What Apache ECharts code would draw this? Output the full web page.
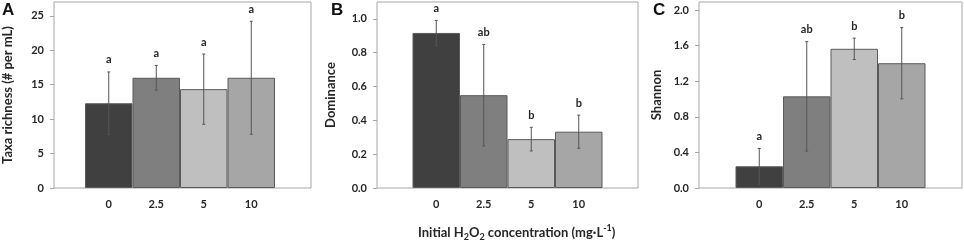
<!DOCTYPE html>
<html>
<head>
<meta charset="utf-8">
<script src="https://cdn.jsdelivr.net/npm/echarts@6/dist/echarts.min.js"></script>
<style>
  html, body { margin: 0; padding: 0; background: #fff; }
  #chart { width: 964px; height: 242px; }
</style>
</head>
<body>
<div id="chart"></div>
<script>
var categories = ['0', '2.5', '5', '10']
var barColors = ['#404040', '#7f7f7f', '#bfbfbf', '#a6a6a6']

// A - taxa richness
var richness = [12.3, 16.0, 14.35, 16.0]
var richnessErr = [4.55, 1.8, 5.1, 8.2]
var richnessLetters = ['a', 'a', 'a', 'a']
var richnessTicks = [0, 5, 10, 15, 20, 25]

// B - dominance
var dominance = [0.917, 0.549, 0.289, 0.333]
var dominanceErr = [0.074, 0.3, 0.07, 0.098]
var dominanceLetters = ['a', 'ab', 'b', 'b']
var dominanceTicks = [0, 0.2, 0.4, 0.6, 0.8, 1.0]

// C - shannon
var shannon = [0.244, 1.03, 1.564, 1.402]
var shannonErr = [0.2, 0.615, 0.12, 0.4]
var shannonLetters = ['a', 'ab', 'b', 'b']
var shannonTicks = [0, 0.4, 0.8, 1.2, 1.6, 2.0]

var font = 'Lato'
var textColor = '#262626'

var panels = [
  { letter: 'A', name: 'Taxa richness (# per mL)', values: richness, err: richnessErr, letters: richnessLetters,
    ticks: richnessTicks, max: 27, digits: 0, left: 49, width: 262, nameGap: 40, letterX: 2 },
  { letter: 'B', name: 'Dominance', values: dominance, err: dominanceErr, letters: dominanceLetters,
    ticks: dominanceTicks, max: 1.1, digits: 1, left: 377, width: 261, nameGap: 40, letterX: 331 },
  { letter: 'C', name: 'Shannon', values: shannon, err: shannonErr, letters: shannonLetters,
    ticks: shannonTicks, max: 2.09, digits: 1, left: 699, width: 263, nameGap: 36, letterX: 653 }
]

var gridTop = 2
var gridHeight = 186
var barsWidth = 190

var grid = []
var xAxis = []
var yAxis = []
var series = []
var graphic = []

panels.forEach(function (p, i) {
  var frameIdx = i * 2
  var barIdx = i * 2 + 1
  // frame grid, carries the y axis
  grid.push({
    left: p.left, top: gridTop, width: p.width, height: gridHeight,
    show: true, borderColor: '#a6a6a6', borderWidth: 1, backgroundColor: '#fff'
  })
  // grid for the bars, narrower and centred in the frame
  grid.push({
    left: p.left + (p.width - barsWidth) / 2, top: gridTop, width: barsWidth, height: gridHeight
  })
  xAxis.push({ type: 'category', gridIndex: frameIdx, data: categories, show: false })
  xAxis.push({
    type: 'category', gridIndex: barIdx, data: categories,
    axisLine: { show: false }, axisTick: { show: false },
    axisLabel: { color: textColor, fontFamily: font, fontWeight: 'bold', fontSize: 11, margin: 11 }
  })
  yAxis.push({
    type: 'value', gridIndex: frameIdx, min: 0, max: p.max,
    name: p.name, nameLocation: 'middle', nameRotate: 90, nameGap: p.nameGap,
    nameTextStyle: { color: textColor, fontFamily: font, fontWeight: 'bold', fontSize: 13 },
    axisLine: { show: false },
    splitLine: { show: false },
    axisTick: { show: true, length: 4, lineStyle: { color: '#a6a6a6' }, customValues: p.ticks },
    axisLabel: {
      color: textColor, fontFamily: font, fontWeight: 'bold', fontSize: 11, margin: 10,
      customValues: p.ticks,
      formatter: function (v) { return v.toFixed(p.digits) }
    }
  })
  yAxis.push({ type: 'value', gridIndex: barIdx, min: 0, max: p.max, show: false })

  series.push({
    type: 'bar', xAxisIndex: barIdx, yAxisIndex: barIdx,
    barCategoryGap: 0,
    data: p.values.map(function (v, k) {
      return { value: v, itemStyle: { color: barColors[k] } }
    }),
    itemStyle: { borderColor: '#5a5a5a', borderWidth: 1 }
  })
  // error bars + significance letters
  series.push({
    type: 'custom', xAxisIndex: barIdx, yAxisIndex: barIdx, z: 5,
    data: p.values.map(function (v, k) { return [k, v, p.err[k]] }),
    renderItem: function (params, api) {
      var k = api.value(0)
      var v = api.value(1)
      var e = api.value(2)
      var hi = api.coord([k, v + e])
      var lo = api.coord([k, v - e])
      var cap = 1.5
      var style = { stroke: '#555', lineWidth: 1 }
      return {
        type: 'group',
        children: [
          { type: 'line', shape: { x1: hi[0], y1: hi[1], x2: lo[0], y2: lo[1] }, style: style },
          { type: 'line', shape: { x1: hi[0] - cap, y1: hi[1], x2: hi[0] + cap, y2: hi[1] }, style: style },
          { type: 'line', shape: { x1: lo[0] - cap, y1: lo[1], x2: lo[0] + cap, y2: lo[1] }, style: style },
          {
            type: 'text',
            style: {
              x: hi[0], y: hi[1] - 12, text: p.letters[params.dataIndex],
              align: 'center', verticalAlign: 'middle',
              fill: textColor, font: 'bold 11px ' + font
            }
          }
        ]
      }
    }
  })

  graphic.push({
    type: 'text', left: p.letterX, top: 2,
    style: { text: p.letter, fill: '#111', font: 'bold 17px "Liberation Sans"' }
  })
})

// x axis title with sub/superscripts
graphic.push({
  type: 'text', left: 418, top: 224,
  style: {
    text: '{n|Initial H}{s|2}{n|O}{s|2}{n| concentration (mg·L}{p|-1}{n|)}',
    rich: {
      n: { fontFamily: font, fontWeight: 'bold', fontSize: 13, fill: textColor, lineHeight: 18, verticalAlign: 'middle' },
      s: { fontFamily: font, fontWeight: 'bold', fontSize: 9, fill: textColor, lineHeight: 9, verticalAlign: 'bottom' },
      p: { fontFamily: font, fontWeight: 'bold', fontSize: 9, fill: textColor, lineHeight: 9, verticalAlign: 'top' }
    }
  }
})

var chart = echarts.init(document.getElementById('chart'))
chart.setOption({
  animation: false,
  backgroundColor: '#fff',
  grid: grid,
  xAxis: xAxis,
  yAxis: yAxis,
  series: series,
  graphic: graphic
})
</script>
</body>
</html>
